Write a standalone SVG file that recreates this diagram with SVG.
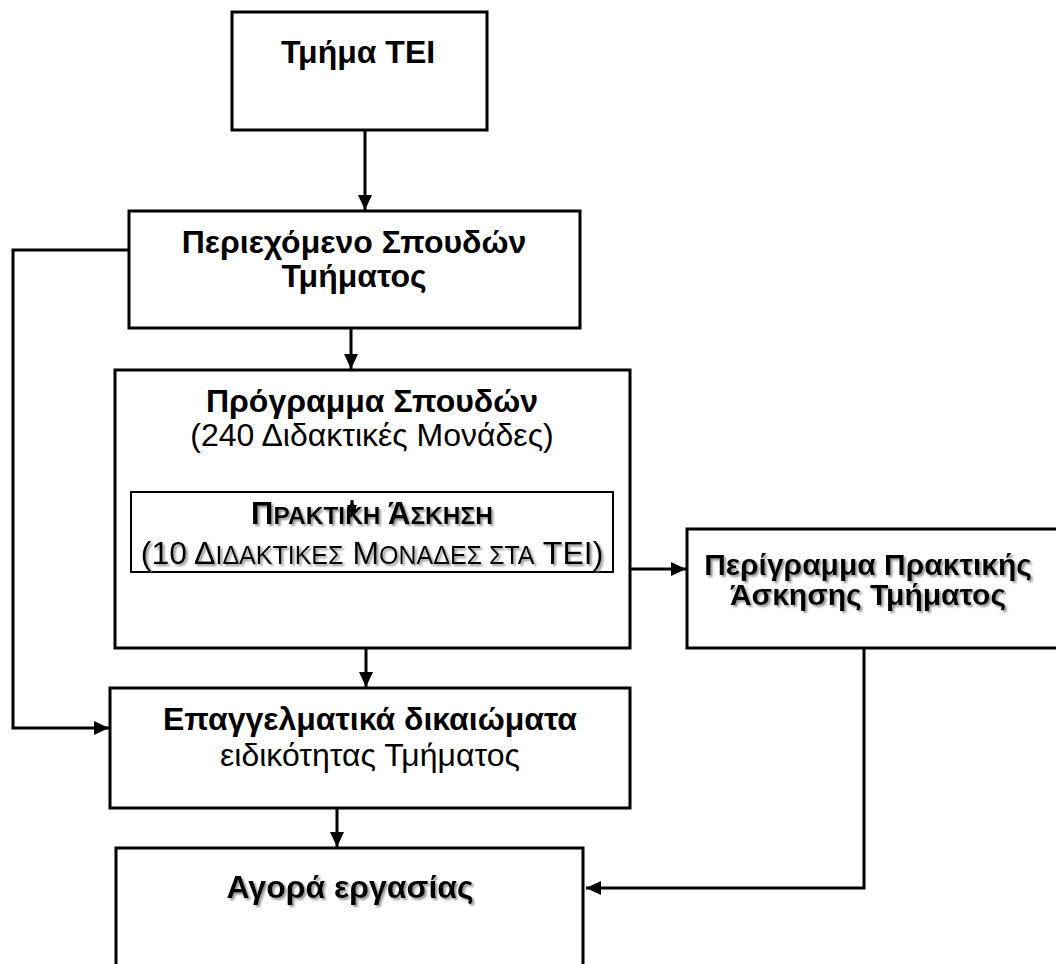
<svg xmlns="http://www.w3.org/2000/svg" width="1056" height="964" viewBox="0 0 1056 964">
<defs>
<style>
.box{fill:#fff;stroke:#000;stroke-width:3}
.thin{fill:#fff;stroke:#000;stroke-width:2}
.con{fill:none;stroke:#000;stroke-width:3}
.t{font-family:"Liberation Sans",Arial,sans-serif;fill:#000;text-anchor:middle}
.b{font-weight:bold}
.sh{filter:url(#shadow)}
</style>
<marker id="ah" markerUnits="userSpaceOnUse" markerWidth="15" markerHeight="14" refX="15" refY="7" orient="auto">
<path d="M0,0 L15,7 L0,14 z" fill="#000"/>
</marker>
<marker id="sa" markerUnits="userSpaceOnUse" markerWidth="11" markerHeight="10" refX="11" refY="5" orient="auto-start-reverse">
<path d="M0,0 L11,5 L0,10 z" fill="#000"/>
</marker>
<filter id="shadow" x="-5%" y="-20%" width="110%" height="150%">
<feDropShadow dx="2" dy="2" stdDeviation="0.8" flood-color="#777" flood-opacity="0.8"/>
</filter>
</defs>
<rect width="1056" height="964" fill="#fff"/>

<g id="connectors">
<line class="con" x1="365" y1="130" x2="365" y2="210" marker-end="url(#ah)"/>
<line class="con" x1="351" y1="328" x2="351" y2="369" marker-end="url(#ah)"/>
<polyline class="con" points="129,250 13,250 13,728 109,728" marker-end="url(#ah)"/>
<line class="con" x1="366" y1="648" x2="366" y2="687" marker-end="url(#ah)"/>
<line class="con" x1="337" y1="808" x2="337" y2="847" marker-end="url(#ah)"/>
<line class="con" x1="613" y1="569" x2="686" y2="569" marker-end="url(#ah)"/>
<polyline class="con" points="864,648 864,888 586,888" marker-end="url(#ah)"/>
</g>

<g id="tmima-tei">
<rect class="box" x="232" y="12" width="255" height="118"/>
<text class="t b" x="358" y="63" font-size="32">Τμήμα ΤΕΙ</text>
</g>

<g id="periexomeno">
<rect class="box" x="129" y="211" width="451" height="117"/>
<text class="t b" x="354" y="253" font-size="32">Περιεχόμενο Σπουδών</text>
<text class="t b" x="354" y="287" font-size="32">Τμήματος</text>
</g>

<g id="programma">
<rect class="box" x="115" y="370" width="515" height="278"/>
<text class="t b" x="372" y="412" font-size="32">Πρόγραμμα Σπουδών</text>
<text class="t" x="372" y="446" font-size="32">(240 Διδακτικές Μονάδες)</text>
</g>

<g id="praktiki">
<rect class="thin" x="131" y="492" width="482" height="80"/>
<text class="t b sh" x="372" y="524" font-size="31">Π<tspan font-size="24.5">ΡΑΚΤΙΚΗ</tspan> Ά<tspan font-size="24.5">ΣΚΗΣΗ</tspan></text>
<text class="t sh" x="372" y="564" font-size="32">(10 Δ<tspan font-size="25">ΙΔΑΚΤΙΚΕΣ</tspan> Μ<tspan font-size="25">ΟΝΑΔΕΣ ΣΤΑ</tspan> ΤΕΙ)</text>
<line class="con" x1="352" y1="500" x2="352" y2="516" stroke-width="2" marker-start="url(#sa)" marker-end="url(#sa)"/>
</g>

<g id="perigramma">
<rect class="box" x="687" y="529" width="372" height="119"/>
<text class="t b sh" x="868" y="575" font-size="30">Περίγραμμα Πρακτικής</text>
<text class="t b sh" x="868" y="605" font-size="30">Άσκησης Τμήματος</text>
</g>

<g id="epaggelmatika">
<rect class="box" x="110" y="688" width="520" height="120"/>
<text class="t b" x="370" y="730" font-size="32">Επαγγελματικά δικαιώματα</text>
<text class="t" x="370" y="766" font-size="32">ειδικότητας Τμήματος</text>
</g>

<g id="agora">
<rect class="box" x="116" y="848" width="467" height="130"/>
<text class="t b sh" x="350" y="898" font-size="32">Αγορά εργασίας</text>
</g>
</svg>
